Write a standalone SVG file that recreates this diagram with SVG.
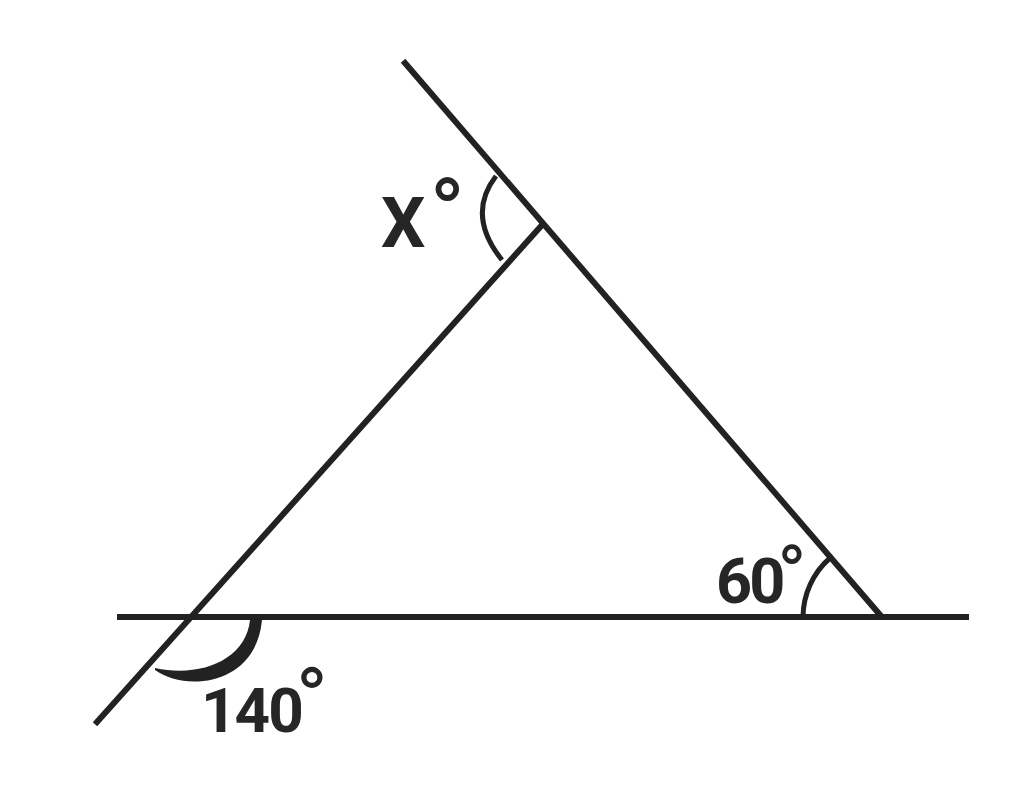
<svg xmlns="http://www.w3.org/2000/svg" width="1030" height="789" viewBox="0 0 1030 789">
<style>
.ln{stroke:#222;stroke-width:6;stroke-linecap:square;fill:none}
.arc{stroke:#222;stroke-width:5;fill:none}
.lbl{font-family:Roboto,"Liberation Sans",sans-serif;font-weight:700;fill:#262626}
.deg{font-weight:400}
</style>
<rect width="1030" height="789" fill="#fff"/>
<g id="connectors">
<line class="ln" x1="120" y1="617" x2="966" y2="617"/>
<line class="ln" x1="405" y1="63" x2="881" y2="616"/>
<line class="ln" x1="97" y1="722" x2="542" y2="225"/>
</g>
<g id="angle-x">
<path class="arc" d="M496,176 Q466,215 502,260"/>
<text class="lbl" x="381" y="247" font-size="70">X<tspan class="deg" dx="4" dy="-2" font-size="95">°</tspan></text>
</g>
<g id="angle-140">
<path fill="#222" d="M155,670 C185,692 256,686 262,620 L250,620 C246,660 200,678 155,668 Z"/>
<text class="lbl" x="201" y="732" font-size="62" letter-spacing="-2">140<tspan class="deg" dx="-6" dy="-4" font-size="86" letter-spacing="0">°</tspan></text>
</g>
<g id="angle-60">
<path class="arc" d="M803,617 A79,79 0 0 1 830,558"/>
<text class="lbl" x="716" y="603" font-size="63" letter-spacing="-3">60<tspan class="deg" dx="-5" dy="-2" font-size="78" letter-spacing="0">°</tspan></text>
</g>
</svg>
